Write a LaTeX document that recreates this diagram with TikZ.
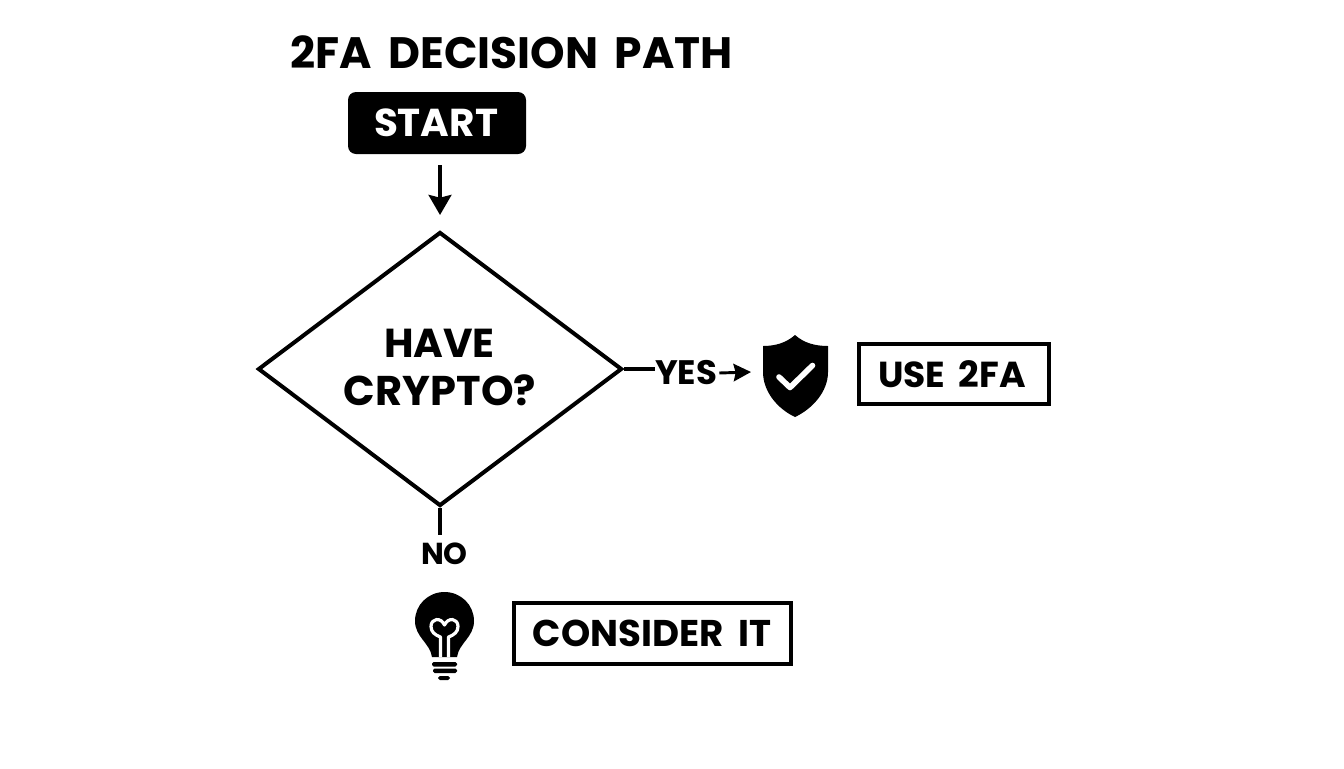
\documentclass[tikz,border=0pt]{standalone}
\usepackage{fontspec}
\usepackage{graphicx}
\setmainfont{Poppins}[BoldFont={Poppins Bold},BoldFeatures={WordSpace=1.8}]
\usetikzlibrary{shapes.geometric,arrows.meta}
\newcommand{\fitw}[2]{\resizebox{#1pt}{!}{\bfseries #2}}
\tikzset{
  x=0.75pt,y=-0.75pt,
  conn/.style={line width=3pt,draw=black},
  arrowline/.style={conn,-{Stealth[length=15pt,width=17pt,inset=2pt]}},
  outbox/.style={draw=black,line width=3pt,rectangle,inner sep=0pt,fill=white},
  lab/.style={inner sep=0pt,text=black},
}
\begin{document}
\begin{tikzpicture}
\useasboundingbox[fill=white] (0,0) rectangle (1344,768);
\node[lab] (title) at (511.5,52.5) {\fitw{332}{2FA DECISION PATH}};
\node[rectangle,fill=black,rounded corners=6pt,minimum width=133.5pt,minimum height=46.5pt,inner sep=0pt] (start) at (437,123) {};
\node[lab,text=white] (starttext) at (436,123) {\fitw{93}{START}};
\node[diamond,draw=black,line width=3pt,minimum width=273pt,minimum height=205.5pt,aspect=1.328,inner sep=0pt] (dec) at (440,369) {};
\node[lab] (have) at (439.5,343) {\fitw{83}{HAVE}};
\node[lab] (crypto) at (440,390) {\fitw{144}{CRYPTO?}};
\coordinate (a1) at (440,165);
\coordinate (a2) at (440,215);
\draw[arrowline] (a1) -- (a2);
\node[lab] (yes) at (686,373) {\fitw{46.5}{YES}};
\coordinate (y2) at (751,372);
\draw[conn] (dec.east) -- (yes.west |- dec.east);
\draw[line width=2.2pt,-{Stealth[length=13pt,width=13pt,inset=1.5pt]}] (yes.east) ++(2,0) -- (y2);
\node[lab] (no) at (444.5,554) {\fitw{35}{NO}};
\coordinate (n1) at (440,535);
\draw[conn] (dec.south) -- (n1);
\node[outbox,minimum width=142pt,minimum height=44.5pt] (use) at (954,374) {};
\node[lab] (usetext) at (952,374.5) {\fitw{111}{USE 2FA}};
\node[outbox,minimum width=207.5pt,minimum height=45.5pt] (cons) at (652.5,633.5) {};
\node[lab] (constext) at (652,633.5) {\fitw{178.5}{CONSIDER IT}};
% shield
\fill[black] (795,335) .. controls (786,343) and (775,346) .. (763,346)
  -- (763,372) .. controls (763,392) and (778,409) .. (795,417)
  .. controls (812,409) and (828,392) .. (828,372) -- (828,346)
  .. controls (815,346) and (804,343) .. (795,335) -- cycle;
\draw[white,line width=4.2pt,line cap=round,line join=round] (779,377) -- (790,387.5) -- (812.5,365.5);
% bulb
\fill[black] (444.5,592) .. controls (428,592) and (415,605) .. (415,621)
  .. controls (415,637) and (430,643) .. (432,657) -- (457,657)
  .. controls (459,643) and (474,637) .. (474,621)
  .. controls (474,605) and (461,592) .. (444.5,592) -- cycle;
\draw[white,line width=2.4pt,line join=round] (440.5,657) -- (440.5,637)
  .. controls (435,635) and (431,632) .. (431,626.5)
  .. controls (431,618) and (441,617) .. (444.5,625)
  .. controls (448,617) and (458,618) .. (458,626.5)
  .. controls (458,632) and (454,635) .. (448.5,637) -- (448.5,657);
\fill[black,rounded corners=1.2pt] (432,662) rectangle (457,666.5);
\fill[black,rounded corners=1.2pt] (433,668.5) rectangle (457,673);
\fill[black,rounded corners=1.4pt] (438,676) rectangle (450,680);
\end{tikzpicture}
\end{document}
